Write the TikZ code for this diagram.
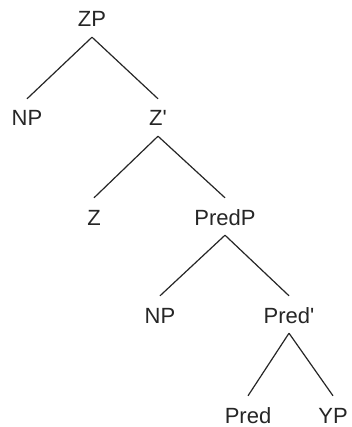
\documentclass[tikz,border=0pt]{standalone}
\usepackage{fontspec}
\setmainfont{Liberation Sans}
\usepackage{tikz}
\usetikzlibrary{positioning}

\begin{document}
\begin{tikzpicture}[
  x=1pt, y=-1pt,
  lbl/.style={anchor=base, font=\fontsize{22}{24}\selectfont, text=black!85,
    inner xsep=1pt, inner ysep=10pt, text height=17pt, text depth=0pt},
  br/.style={line width=1.2pt, black!85}]
  \useasboundingbox[fill=white] (0,0) rectangle (351,427);
  % level 0 and 1
  \node[lbl] (zp) at (92,27) {ZP};
  \node[lbl] (np1) at (27,126) {NP};
  \node[lbl] (zbar) at (158,126) {Z\textquotesingle};
  % level 2
  \node[lbl] (z) at (94,225) {Z};
  \node[lbl] (predp) at (225,225) {PredP};
  % level 3
  \node[lbl] (np2) at (160,323) {NP};
  \node[lbl] (predbar) at (289,323) {Pred\textquotesingle};
  % level 4
  \node[lbl] (pred) at (248,423) {Pred};
  \node[lbl] (yp) at (333,423) {YP};
  \draw[br] (zp.south) -- (np1.north); \draw[br] (zp.south) -- (zbar.north);
  \draw[br] (zbar.south) -- (z.north); \draw[br] (zbar.south) -- (predp.north);
  \draw[br] (predp.south) -- (np2.north); \draw[br] (predp.south) -- (predbar.north);
  \draw[br] (predbar.south) -- (pred.north); \draw[br] (predbar.south) -- (yp.north);
\end{tikzpicture}
\end{document}
